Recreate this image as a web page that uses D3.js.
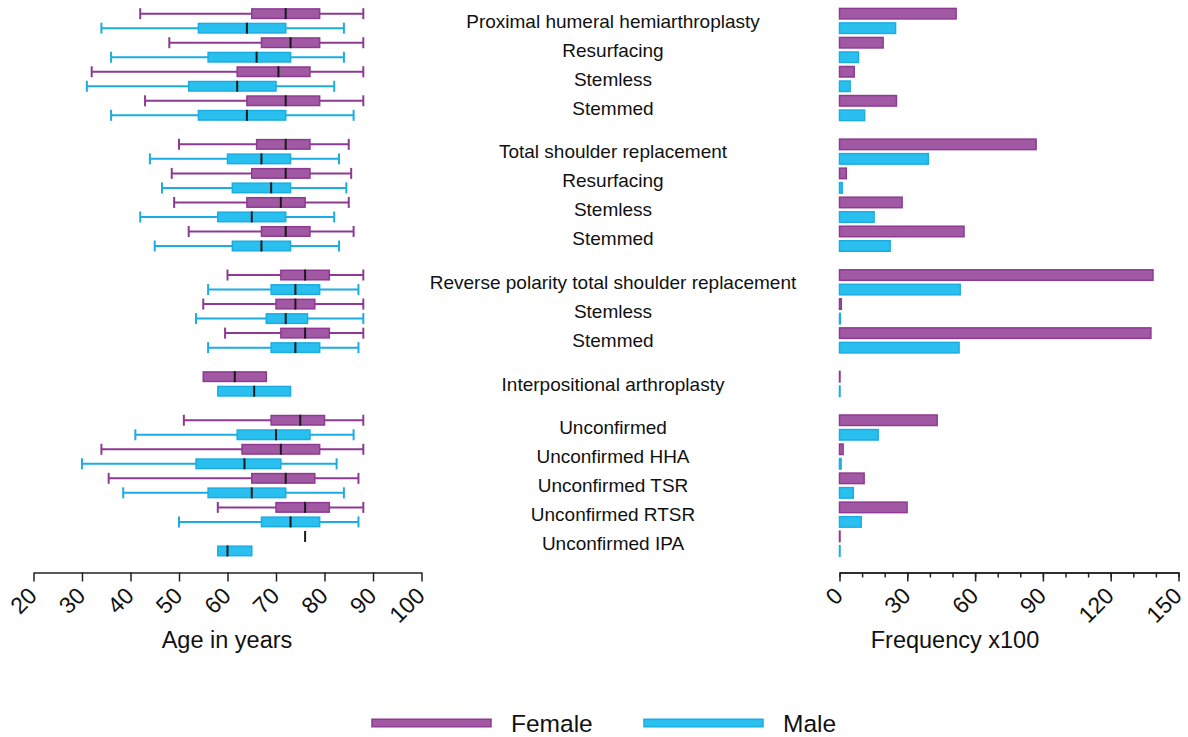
<!DOCTYPE html>
<html>
<head>
<meta charset="utf-8">
<title>Shoulder arthroplasty by sex</title>
<style>
  body { margin: 0; background: #fff; }
  svg { font-family: "Liberation Sans", Arial, sans-serif; }
</style>
</head>
<body>
<script src="https://cdn.jsdelivr.net/npm/d3@7/dist/d3.min.js"></script>
<script>
// categories in plot order, null = empty spacer row between groups
const labels = [
  "Proximal humeral hemiarthroplasty", "Resurfacing", "Stemless", "Stemmed", null,
  "Total shoulder replacement", "Resurfacing", "Stemless", "Stemmed", null,
  "Reverse polarity total shoulder replacement", "Stemless", "Stemmed", null,
  "Interpositional arthroplasty", null,
  "Unconfirmed", "Unconfirmed HHA", "Unconfirmed TSR", "Unconfirmed RTSR", "Unconfirmed IPA"
];

// age box plots: [min, q1, median, q3, max]
const femaleAge = [
  [42, 65, 72, 79, 88], [48, 67, 73, 79, 88], [32, 62, 70.5, 77, 88], [43, 64, 72, 79, 88],
  [50, 66, 72, 77, 85], [48.5, 65, 72, 77, 85.5], [49, 64, 71, 76, 85], [52, 67, 72, 77, 86],
  [60, 71, 76, 81, 88], [55, 70, 74, 78, 88], [59.5, 71, 76, 81, 88],
  [55, 55, 61.5, 68, 68],
  [51, 69, 75, 80, 88], [34, 63, 71, 79, 88], [35.5, 65, 72, 78, 87], [58, 70, 76, 81, 88], [76, 76, 76, 76, 76]
];
const maleAge = [
  [34, 54, 64, 72, 84], [36, 56, 66, 73, 84], [31, 52, 62, 70, 82], [36, 54, 64, 72, 86],
  [44, 60, 67, 73, 83], [46.5, 61, 69, 73, 84.5], [42, 58, 65, 72, 82], [45, 61, 67, 73, 83],
  [56, 69, 74, 79, 87], [53.5, 68, 72, 76.5, 88], [56, 69, 74, 79, 87],
  [58, 58, 65.5, 73, 73],
  [41, 62, 70, 77, 86], [30, 53.5, 63.5, 71, 82.5], [38.5, 56, 65, 72, 84], [50, 67, 73, 79, 87], [58, 58, 60, 65, 65]
];

// frequency (x100)
const femaleFreq = [51.6, 19.3, 6.5, 25.2, 87, 3, 27.7, 55.1, 138.7, 0.8, 137.8, 0.2, 43.2, 1.6, 10.9, 29.9, 0.2];
const maleFreq = [24.8, 8.4, 4.7, 11.1, 39.3, 1.2, 15.3, 22.4, 53.4, 0.4, 52.9, 0.2, 17.1, 0.7, 6.1, 9.6, 0.2];

const ageTicks = [20, 30, 40, 50, 60, 70, 80, 90, 100];
const freqTicks = [0, 30, 60, 90, 120, 150];

const colF = { fill: "#a259a3", stroke: "#8e3a92" };
const colM = { fill: "#29c0f0", stroke: "#1bace2" };

const W = 1188, H = 737;
const svg = d3.select("body").append("svg").attr("width", W).attr("height", H);

// build the rows: two per category (female then male), one per spacer
let rows = [], cats = [], ci = 0;
labels.forEach((lab, i) => {
  if (lab === null) { rows.push("gap" + i); return; }
  cats.push({ label: lab, idx: ci, fRow: "f" + ci, mRow: "m" + ci });
  rows.push("f" + ci, "m" + ci);
  ci++;
});

const y = d3.scaleBand().domain(rows).range([6.4, 558.2]);
const step = y.step();
const boxH = 9.5, barH = 10.5;
const cy = r => y(r) + step / 2;

const xAge = d3.scaleLinear().domain([20, 100]).range([33.5, 421.5]);
const xFreq = d3.scaleLinear().domain([0, 150]).range([839.5, 1178.5]);

// ---- box plots
const boxData = [];
cats.forEach(c => {
  boxData.push({ row: c.fRow, v: femaleAge[c.idx], col: colF });
  boxData.push({ row: c.mRow, v: maleAge[c.idx], col: colM });
});

const bx = svg.append("g").selectAll("g").data(boxData).join("g")
  .attr("transform", d => `translate(0,${cy(d.row)})`);

bx.append("line").attr("x1", d => xAge(d.v[0])).attr("x2", d => xAge(d.v[1]))
  .attr("stroke", d => d.col.stroke).attr("stroke-width", 2);
bx.append("line").attr("x1", d => xAge(d.v[3])).attr("x2", d => xAge(d.v[4]))
  .attr("stroke", d => d.col.stroke).attr("stroke-width", 2);
bx.filter(d => d.v[0] < d.v[1]).append("line")
  .attr("x1", d => xAge(d.v[0])).attr("x2", d => xAge(d.v[0]))
  .attr("y1", -boxH / 2 - 0.75).attr("y2", boxH / 2 + 0.75)
  .attr("stroke", d => d.col.stroke).attr("stroke-width", 2);
bx.filter(d => d.v[4] > d.v[3]).append("line")
  .attr("x1", d => xAge(d.v[4])).attr("x2", d => xAge(d.v[4]))
  .attr("y1", -boxH / 2 - 0.75).attr("y2", boxH / 2 + 0.75)
  .attr("stroke", d => d.col.stroke).attr("stroke-width", 2);
bx.filter(d => d.v[3] > d.v[1]).append("rect")
  .attr("x", d => xAge(d.v[1])).attr("width", d => xAge(d.v[3]) - xAge(d.v[1]))
  .attr("y", -boxH / 2).attr("height", boxH)
  .attr("fill", d => d.col.fill).attr("stroke", d => d.col.stroke).attr("stroke-width", 1.5);
bx.append("line")
  .attr("x1", d => xAge(d.v[2])).attr("x2", d => xAge(d.v[2]))
  .attr("y1", -boxH / 2 - 0.75).attr("y2", boxH / 2 + 0.75)
  .attr("stroke", "#1a1a1a").attr("stroke-width", 2);

// ---- frequency bars
const barData = [];
cats.forEach(c => {
  barData.push({ row: c.fRow, v: femaleFreq[c.idx], col: colF });
  barData.push({ row: c.mRow, v: maleFreq[c.idx], col: colM });
});
svg.append("g").selectAll("rect").data(barData).join("rect")
  .attr("x", xFreq(0))
  .attr("y", d => cy(d.row) - barH / 2)
  .attr("width", d => Math.max(0.5, xFreq(d.v) - xFreq(0)))
  .attr("height", barH)
  .attr("fill", d => d.col.fill).attr("stroke", d => d.col.stroke).attr("stroke-width", 1.5);

// ---- category labels
svg.append("g").selectAll("text").data(cats).join("text")
  .attr("x", 613)
  .attr("y", d => (cy(d.fRow) + cy(d.mRow)) / 2)
  .attr("dy", "0.35em")
  .attr("text-anchor", "middle")
  .attr("font-size", 19)
  .attr("fill", "#111")
  .text(d => d.label);

// ---- axes
const axisY = 572.5;
function styleAxis(g) {
  g.attr("font-family", null).attr("font-size", null);
  g.select(".domain").attr("stroke", "#222").attr("stroke-width", 1.5);
  g.selectAll(".tick line").attr("stroke", "#222").attr("stroke-width", 1.5);
  g.selectAll(".tick text")
    .attr("x", 0).attr("y", 0).attr("dy", "0.35em")
    .attr("transform", "translate(-1.5,19) rotate(-45)")
    .attr("text-anchor", "end")
    .style("font-size", "23px")
    .attr("fill", "#111");
}

svg.append("g").attr("transform", `translate(0,${axisY})`)
  .call(d3.axisBottom(xAge).tickValues(ageTicks).tickSize(9).tickSizeOuter(0))
  .call(styleAxis);

svg.append("g").attr("transform", `translate(0,${axisY})`)
  .call(d3.axisBottom(xFreq).tickValues(d3.range(0, 151, 10)).tickSize(5).tickFormat("").tickSizeOuter(0))
  .call(g => {
    g.select(".domain").attr("stroke", "#222").attr("stroke-width", 1.5);
    g.selectAll(".tick line").attr("stroke", "#222").attr("stroke-width", 1.5);
  });
svg.append("g").attr("transform", `translate(0,${axisY})`)
  .call(d3.axisBottom(xFreq).tickValues(freqTicks).tickSize(9).tickSizeOuter(0))
  .call(styleAxis);

svg.append("text").attr("x", 227).attr("y", 648).attr("text-anchor", "middle")
  .attr("font-size", 23.5).attr("fill", "#111").text("Age in years");
svg.append("text").attr("x", 955).attr("y", 648).attr("text-anchor", "middle")
  .attr("font-size", 23.5).attr("fill", "#111").text("Frequency x100");

// ---- legend
const legend = [
  { name: "Female", col: colF, x: 372 },
  { name: "Male", col: colM, x: 644 }
];
const lg = svg.append("g").selectAll("g").data(legend).join("g")
  .attr("transform", d => `translate(${d.x},723)`);
lg.append("rect").attr("x", 0).attr("y", -3.75).attr("width", 119).attr("height", 7.5)
  .attr("fill", d => d.col.fill).attr("stroke", d => d.col.stroke).attr("stroke-width", 1.5);
lg.append("text").attr("x", 139).attr("dy", "0.35em").attr("font-size", 24.5).attr("fill", "#111")
  .text(d => d.name);
</script>
</body>
</html>
